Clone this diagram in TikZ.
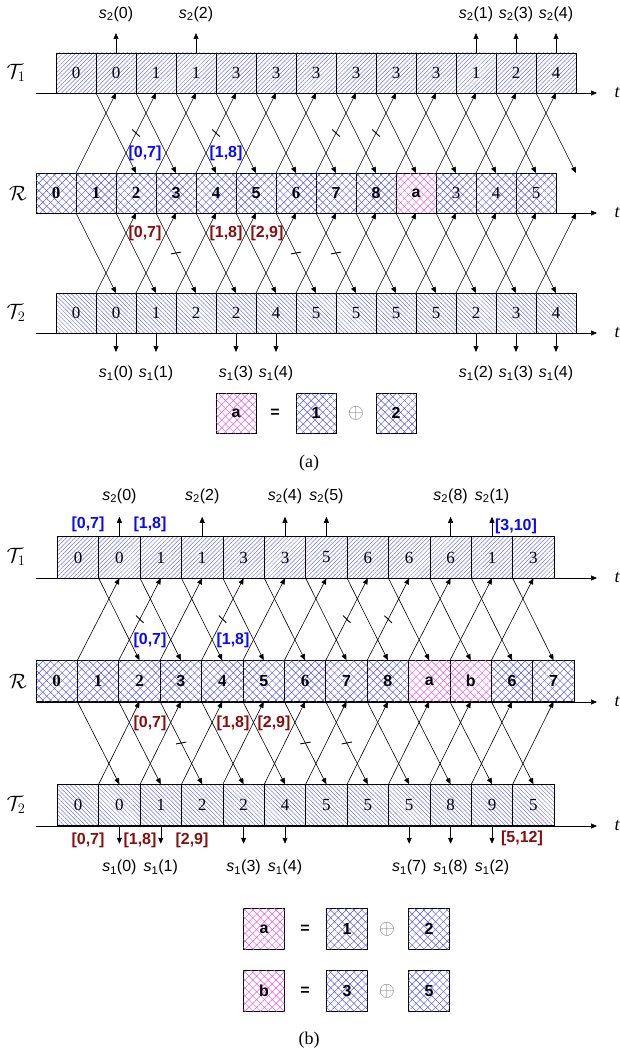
\documentclass[tikz,border=0pt]{standalone}
\usepackage{fontspec}
\setmainfont{Liberation Serif}
\setsansfont{Liberation Sans}
\usepackage{amsmath}
\usepackage{amsfonts}
\usetikzlibrary{calc,positioning,arrows.meta,patterns.meta,decorations.markings}

\definecolor{hatchblue}{RGB}{80,80,235}
\definecolor{hatchpink}{RGB}{235,80,225}
\definecolor{lblblue}{RGB}{10,10,245}
\definecolor{lblred}{RGB}{135,15,15}
\newcommand{\sig}[2]{\textit{s}\textsubscript{#1}(#2)}

\tikzset{
  cell/.style={draw, line width=0.7pt, inner sep=0pt, outer sep=0pt,
    minimum width=40pt, minimum height=40pt},
  bigcell/.style={minimum width=41.4pt, minimum height=41.5pt},
  upbox/.style={cell, pattern={Lines[angle=45,distance=3pt,line width=0.5pt]},
    pattern color=hatchblue!80, font=\fontsize{17}{17}\selectfont},
  dnbox/.style={cell, pattern={Lines[angle=-45,distance=3pt,line width=0.5pt]},
    pattern color=hatchblue!80, font=\fontsize{17}{17}\selectfont},
  mesh/.style={cell, pattern={Lines[angle=45,distance=5.5pt,line width=0.45pt]}, pattern color=#1,
    postaction={pattern={Lines[angle=-45,distance=5.5pt,line width=0.45pt]}, pattern color=#1}},
  rs/.style={mesh=hatchblue, font=\bfseries\fontsize{17}{17}\selectfont},
  rf/.style={mesh=hatchblue, font=\sffamily\bfseries\fontsize{16}{16}\selectfont},
  rn/.style={mesh=hatchblue, font=\fontsize{17}{17}\selectfont},
  rp/.style={mesh=hatchpink, font=\sffamily\bfseries\fontsize{16}{16}\selectfont},
  ghost/.style={inner sep=0pt, outer sep=0pt, minimum width=40pt, minimum height=40pt},
  lbl/.style={inner sep=0pt, font=\sffamily\fontsize{16}{16}\selectfont},
  blulbl/.style={inner sep=0pt, text=lblblue, font=\sffamily\bfseries\fontsize{16}{16}\selectfont},
  redlbl/.style={inner sep=0pt, text=lblred, font=\sffamily\bfseries\fontsize{16}{16}\selectfont},
  rowlbl/.style={font=\fontsize{21}{21}\selectfont},
  tlbl/.style={font=\itshape\fontsize{18}{18}\selectfont},
  lost/.style={postaction={decorate}, decoration={markings,
    mark=at position .5 with {\draw[-, line width=0.9pt] (-1.5pt,-5pt) -- (1.5pt,5pt);}}},
  ok/.style={},
}

\begin{document}
\begin{tikzpicture}[x=1pt, y=-1pt, >={Triangle[length=6pt,width=5pt]}, line width=0.6pt]
  \useasboundingbox (0,0) rectangle (620,1054); % 全体の大きさ

  %%% (a)
  \foreach \val [count=\col from 0] in {0,0,1,1,3,3,3,3,3,3,1,2,4}
    \node[upbox] (t1a\col) at (76+40*\col,73) {\val}; % T1 のセル
  \foreach \val/\sty [count=\col from 0] in {0/rs,1/rs,2/rs,3/rf,4/rs,5/rf,6/rs,7/rf,8/rf,a/rp,3/rn,4/rn,5/rn}
    \node[\sty] (ra\col) at (56+40*\col,193) {\val}; % R のセル
  \node[ghost] (ra13) at (576,193) {};
  \foreach \val [count=\col from 0] in {0,0,1,2,2,4,5,5,5,5,2,3,4}
    \node[dnbox] (t2a\col) at (76+40*\col,313) {\val}; % T2 のセル

  \node[rowlbl] (la1) at (16,73) {$\mathcal{T}_1$};
  \node[rowlbl] (la2) at (18,193) {$\mathcal{R}$};
  \node[rowlbl] (la3) at (16,313) {$\mathcal{T}_2$};

  % 時間軸
  \foreach \row/\yy in {1/93,2/213,3/333}{
    \coordinate (oa\row) at (36,\yy);
    \coordinate (ea\row) at (597,\yy);
    \draw[->] (oa\row) -- (ea\row);
    \node[tlbl] (ta\row) at (617,\yy) {t};
  }

  % 中継の矢印、[lost]で損失
  \foreach \col/\mka/\mkb in {1/ok/ok,2/lost/ok,3/ok/lost,4/lost/ok,5/ok/ok,6/ok/lost,7/lost/lost,8/lost/ok,9/ok/ok,10/ok/ok,11/ok/ok,12/ok/ok}{
    \draw[->,\mka] (ra\col.north west) -- (t1a\col.south);
    \draw[->,\mkb] (ra\col.south west) -- (t2a\col.north);
  }
  \foreach \col [evaluate=\col as \nxt using int(\col+1)] in {1,...,12}{
    \draw[->] (t1a\col.south west) -- (ra\nxt.north);
    \draw[->] (t2a\col.north west) -- (ra\nxt.south);
  }

  % 復号されたパケット
  \foreach \col/\sv in {1/0,3/2,10/1,11/3,12/4}{
    \coordinate (pa\col) at ($(t1a\col.north)+(0,-20)$);
    \draw[->] (t1a\col.north) -- (pa\col);
    \node[lbl, above=11pt of pa\col] (sa\col) {\sig{2}{\sv}};
  }
  \foreach \col/\sv in {1/0,2/1,4/3,5/4,10/2,11/3,12/4}{
    \coordinate (qa\col) at ($(t2a\col.south)+(0,19)$);
    \draw[->] (t2a\col.south) -- (qa\col);
    \node[lbl, below=14pt of qa\col] (ra\col s) {\sig{1}{\sv}};
  }

  \node[blulbl] (ba1) at (145,153) {[0,7]};
  \node[blulbl] (ba2) at (226,153) {[1,8]};
  \node[redlbl] (da1) at (145,233) {[0,7]};
  \node[redlbl] (da2) at (226,233) {[1,8]};
  \node[redlbl] (da3) at (267,233) {[2,9]};

  % 凡例
  \node[rp] (ka) at (236,413) {a};
  \node[font=\sffamily\bfseries\fontsize{16}{16}\selectfont] (kaeq) at (275,413) {=};
  \node[rf] (ka1) at (316,413) {1};
  \node[text=gray, font=\fontsize{20}{20}\selectfont] (kaop) at (356,413) {$\oplus$};
  \node[rf] (ka2) at (396,413) {2};
  \node[font=\fontsize{18}{18}\selectfont] (capa) at (309,463) {(a)};

  %%% (b)
  \foreach \val [count=\col from 0] in {0,0,1,1,3,3,5,6,6,6,1,3}
    \node[upbox, bigcell] (t1b\col) at (78+41.4*\col,557.5) {\val};
  \foreach \val/\sty [count=\col from 0] in {0/rs,1/rs,2/rs,3/rf,4/rs,5/rf,6/rs,7/rf,8/rf,a/rp,b/rp,6/rf,7/rf}
    \node[\sty, bigcell] (rb\col) at (56.7+41.4*\col,681) {\val};
  \foreach \val [count=\col from 0] in {0,0,1,2,2,4,5,5,5,8,9,5}
    \node[dnbox, bigcell] (t2b\col) at (78+41.4*\col,805) {\val};

  \node[rowlbl] (lb1) at (16,557) {$\mathcal{T}_1$};
  \node[rowlbl] (lb2) at (18,681) {$\mathcal{R}$};
  \node[rowlbl] (lb3) at (16,805) {$\mathcal{T}_2$};

  \foreach \row/\yy in {1/578,2/702,3/826}{
    \coordinate (ob\row) at (36,\yy);
    \coordinate (eb\row) at (597,\yy);
    \draw[->] (ob\row) -- (eb\row);
    \node[tlbl] (tb\row) at (617,\yy) {t};
  }

  \foreach \col/\mka/\mkb in {1/ok/ok,2/lost/ok,3/ok/lost,4/lost/ok,5/ok/ok,6/ok/lost,7/lost/lost,8/lost/ok,9/ok/ok,10/ok/ok,11/ok/ok}{
    \draw[->,\mka] (rb\col.north west) -- (t1b\col.south);
    \draw[->,\mkb] (rb\col.south west) -- (t2b\col.north);
  }
  \foreach \col [evaluate=\col as \nxt using int(\col+1)] in {1,...,11}{
    \draw[->] (t1b\col.south west) -- (rb\nxt.north);
    \draw[->] (t2b\col.north west) -- (rb\nxt.south);
  }

  \foreach \col/\sv in {1/0,3/2,5/4,6/5,9/8,10/1}{
    \coordinate (pb\col) at ($(t1b\col.north)+(0,-20)$);
    \draw[->] (t1b\col.north) -- (pb\col);
    \node[lbl, above=13pt of pb\col] (sb\col) {\sig{2}{\sv}};
  }
  \foreach \col/\sv in {1/0,2/1,4/3,5/4,8/7,9/8,10/2}{
    \coordinate (qb\col) at ($(t2b\col.south)+(0,18)$);
    \draw[->] (t2b\col.south) -- (qb\col);
    \node[lbl, below=16pt of qb\col] (rb\col s) {\sig{1}{\sv}};
  }

  \node[blulbl] (bb1) at (88,524) {[0,7]};
  \node[blulbl] (bb2) at (150,524) {[1,8]};
  \node[blulbl] (bb3) at (516,526) {[3,10]};
  \node[blulbl] (bb4) at (150,640) {[0,7]};
  \node[blulbl] (bb5) at (233,640) {[1,8]};
  \node[redlbl] (db1) at (150,723) {[0,7]};
  \node[redlbl] (db2) at (233,723) {[1,8]};
  \node[redlbl] (db3) at (274,723) {[2,9]};
  \node[redlbl] (db4) at (88,840) {[0,7]};
  \node[redlbl] (db5) at (140,840) {[1,8]};
  \node[redlbl] (db6) at (192,840) {[2,9]};
  \node[redlbl] (db7) at (522,838) {[5,12]};

  % 凡例
  \foreach \row/\yy/\lt/\ra/\rb in {1/929/a/1/2,2/991/b/3/5}{
    \node[rp, bigcell] (kb\row) at (264,\yy) {\lt};
    \node[font=\sffamily\bfseries\fontsize{16}{16}\selectfont] (kbeq\row) at (305,\yy) {=};
    \node[rf, bigcell] (kbx\row) at (347,\yy) {\ra};
    \node[text=gray, font=\fontsize{20}{20}\selectfont] (kbop\row) at (387,\yy) {$\oplus$};
    \node[rf, bigcell] (kby\row) at (429,\yy) {\rb};
  }
  \node[font=\fontsize{18}{18}\selectfont] (capb) at (309,1040) {(b)};
\end{tikzpicture}
\end{document}
